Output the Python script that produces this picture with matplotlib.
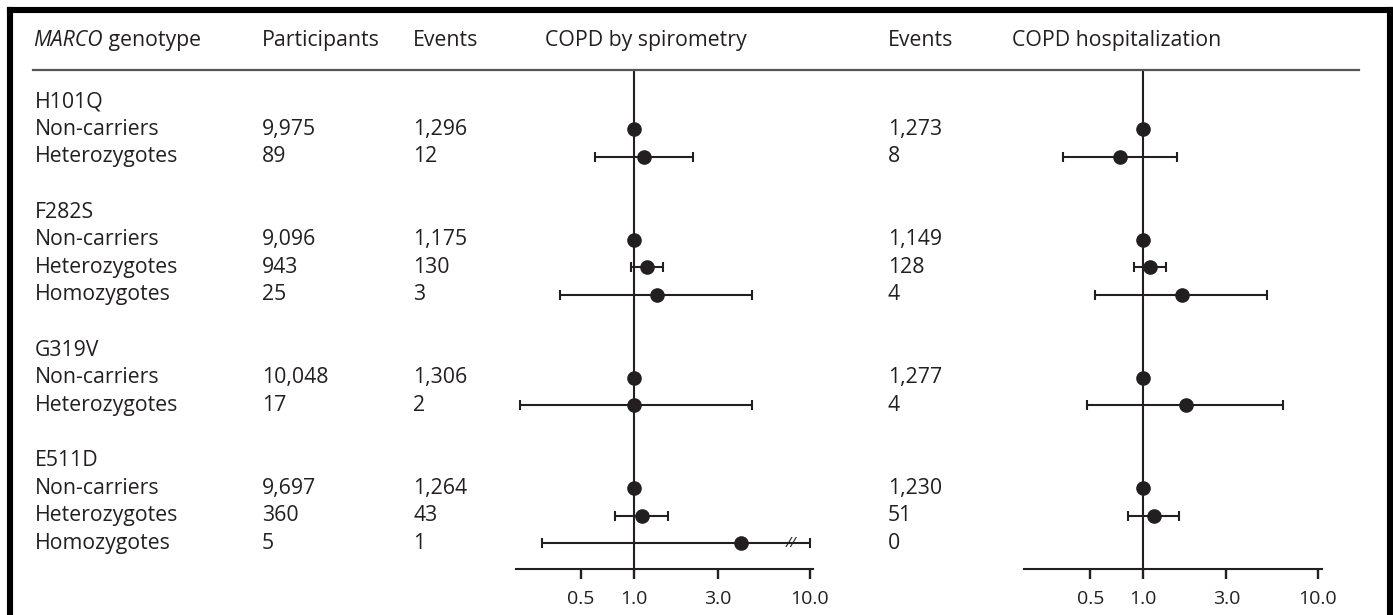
import numpy as np
import matplotlib
matplotlib.use("Agg")
import matplotlib.pyplot as plt
from matplotlib.transforms import blended_transform_factory
from matplotlib.lines import Line2D

plt.rcParams["font.family"] = ["Open Sans", "DejaVu Sans"]

# ---- data -------------------------------------------------------------
group_names = ["H101Q", "F282S", "G319V", "E511D"]
genotypes = [
    ["Non-carriers", "Heterozygotes"],
    ["Non-carriers", "Heterozygotes", "Homozygotes"],
    ["Non-carriers", "Heterozygotes"],
    ["Non-carriers", "Heterozygotes", "Homozygotes"],
]
participants = [9975, 89, 9096, 943, 25, 10048, 17, 9697, 360, 5]
events_spiro = [1296, 12, 1175, 130, 3, 1306, 2, 1264, 43, 1]
events_hosp = [1273, 8, 1149, 128, 4, 1277, 4, 1230, 51, 0]

nan = np.nan
spiro_or = [1.0, 1.14, 1.0, 1.18, 1.35, 1.0, 1.0, 1.0, 1.11, 4.04]
spiro_lo = [nan, 0.60, nan, 0.96, 0.38, nan, 0.225, nan, 0.78, 0.30]
spiro_hi = [nan, 2.17, nan, 1.47, 4.70, nan, 4.70, nan, 1.57, 10.0]
spiro_cut = [False, False, False, False, False, False, False, False, False, True]

hosp_or = [1.0, 0.74, 1.0, 1.09, 1.66, 1.0, 1.75, 1.0, 1.15, nan]
hosp_lo = [nan, 0.35, nan, 0.89, 0.53, nan, 0.48, nan, 0.82, nan]
hosp_hi = [nan, 1.57, nan, 1.35, 5.09, nan, 6.30, nan, 1.61, nan]

tick_values = [0.5, 1.0, 3.0, 10.0]
tick_labels = ["0.5", "1.0", "3.0", "10.0"]

# ---- layout -----------------------------------------------------------
W, H = 1393, 615
fig = plt.figure(figsize=(W / 100, H / 100), dpi=100)
INK = "#231f20"
FS = 15.3


def fx(px):
    return px / W


def fy(py):
    return 1 - py / H


row0_px, row_step = 101.7, 27.6
top_px, bottom_px = 70, 569
y_top = (top_px - row0_px) / row_step
y_bot = (bottom_px - row0_px) / row_step

# row positions: group header, genotype rows, blank spacer
group_rows, geno_rows = [], []
r = 0
for names in genotypes:
    group_rows.append(r)
    r += 1
    for _ in names:
        geno_rows.append(r)
        r += 1
    r += 1
geno_labels = [g for names in genotypes for g in names]


def forest(left_px, right_px, one_px, decade_px, est, lo, hi, cut):
    ax = fig.add_axes([fx(left_px), fy(bottom_px),
                       fx(right_px - left_px), (bottom_px - top_px) / H])
    ax.set_xscale("log")
    ax.set_xlim(10 ** ((left_px - one_px) / decade_px),
                10 ** ((right_px - one_px) / decade_px))
    ax.set_ylim(y_bot, y_top)
    ax.axvline(1.0, color=INK, lw=1.5, zorder=1)
    for y, e, l, h, c in zip(geno_rows, est, lo, hi, cut):
        if np.isnan(e):
            continue
        if not np.isnan(l):
            ax.errorbar([e], [y], xerr=[[e - l], [h - e]], fmt="none",
                        ecolor=INK, elinewidth=1.5, capsize=3.8,
                        capthick=1.5, zorder=2)
            if c:
                ax.text(0.78 * h, y, "//", color=INK, fontsize=11,
                        style="italic", ha="center", va="center",
                        zorder=3)
        ax.plot([e], [y], "o", color=INK, ms=9.5, zorder=4)
    for s in ("top", "left", "right"):
        ax.spines[s].set_visible(False)
    ax.spines["bottom"].set_color(INK)
    ax.spines["bottom"].set_linewidth(1.5)
    ax.set_yticks([])
    ax.set_xticks(tick_values)
    ax.set_xticklabels(tick_labels)
    ax.xaxis.set_minor_locator(matplotlib.ticker.NullLocator())
    ax.tick_params(axis="x", direction="out", length=7, width=1.7,
                   color=INK, labelcolor=INK, labelsize=14, pad=8)
    ax.patch.set_alpha(0)
    return ax


ax1 = forest(516, 813, 634, 176, spiro_or, spiro_lo, spiro_hi, spiro_cut)
ax2 = forest(1024, 1322, 1143, 175, hosp_or, hosp_lo, hosp_hi,
             [False] * len(hosp_or))

tr = blended_transform_factory(fig.transFigure, ax1.transData)
txt = dict(transform=tr, color=INK, fontsize=FS, va="center", ha="left")

# header row
y_head = (41 - row0_px) / row_step
t_marco = fig.text(fx(33), y_head, "MARCO", style="italic", **txt)
ax1.annotate(" genotype", xy=(1, 0), xycoords=t_marco, color=INK,
             fontsize=FS, ha="left", va="bottom", annotation_clip=False)
for x_px, label in [(262, "Participants"), (413, "Events"),
                    (545, "COPD by spirometry"), (888, "Events"),
                    (1012, "COPD hospitalization")]:
    fig.text(fx(x_px), y_head, label, **txt)

# rule under the header
fig.add_artist(Line2D([fx(33), fx(1359)], [y_top, y_top], transform=tr,
                      color="#555555", lw=1.6))

# table body
for y, name in zip(group_rows, group_names):
    fig.text(fx(35), y, name, **txt)
for y, g, n, e1, e2 in zip(geno_rows, geno_labels, participants,
                           events_spiro, events_hosp):
    fig.text(fx(35), y, g, **txt)
    fig.text(fx(262), y, f"{n:,}", **txt)
    fig.text(fx(413), y, f"{e1:,}", **txt)
    fig.text(fx(888), y, f"{e2:,}", **txt)

# frame on left, top and right edges
frame = dict(color="black", lw=4.4, solid_capstyle="projecting")
fig.add_artist(Line2D([fx(9.5), fx(9.5)], [fy(10), 0], **frame))
fig.add_artist(Line2D([fx(9.5), fx(1390)], [fy(10), fy(10)], **frame))
fig.add_artist(Line2D([fx(1390), fx(1390)], [fy(10), 0], **frame))

fig.savefig("out.png", dpi=100, facecolor="white")
